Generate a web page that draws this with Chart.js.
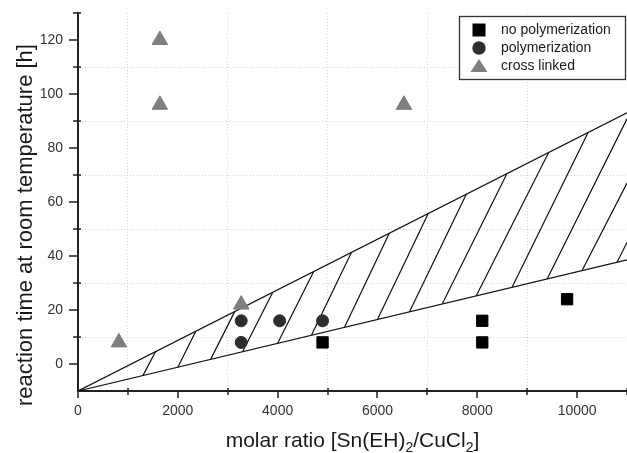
<!DOCTYPE html>
<html><head><meta charset="utf-8">
<script src="https://cdn.jsdelivr.net/npm/chart.js@4.4.0/dist/chart.umd.min.js"></script>
<style>html,body{margin:0;padding:0;background:#fff;}canvas{display:block;}</style>
</head><body>
<canvas id="c" width="627" height="453"></canvas>
<script>
const FONT = "'Liberation Sans', Arial, sans-serif";

// ---- data ----
const seriesLabels = ['no polymerization', 'polymerization', 'cross linked'];
const squareX = [4900, 8100, 8100, 9800];
const squareY = [8, 16, 8, 24];
const circleX = [3270, 3270, 4040, 4900];
const circleY = [16, 8, 16, 16];
const triangleX = [820, 1640, 1640, 3270, 6530];
const triangleY = [8, 120, 96, 22, 96];

// boundary lines of the hatched region
const boundaryX = [0, 11000];
const upperBoundY = [-10, 93];
const lowerBoundY = [-10, 38.6];

// hatch segments (lower end -> upper end)
const hatchLowX  = [1300, 2000, 2660, 3300, 4000, 4680, 5340, 6000, 6640, 7300, 7980, 8700, 9400, 10100, 10800];
const hatchLowY  = [-4.3, -1.2, 1.8, 4.6, 7.7, 10.7, 13.6, 16.5, 19.3, 22.3, 25.3, 28.5, 31.5, 34.6, 37.7];
const hatchHighX = [1560, 2360, 3140, 3900, 4720, 5480, 6240, 7020, 7780, 8590, 9430, 10220, 11000, 11000, 11000];
const hatchHighY = [4.8, 12.1, 19.4, 26.5, 34.2, 41.4, 48.5, 55.8, 62.9, 70.4, 78.3, 85.7, 90.8, 67, 45];

// axes
const xTickValues = [0, 2000, 4000, 6000, 8000, 10000];
const yTickValues = [0, 20, 40, 60, 80, 100, 120];
const yTitle = 'reaction time at room temperature [h]';
const xTitleParts = ['molar ratio [Sn(EH)', '2', '/CuCl', '2', ']'];
const xTitleSub   = [false, true, false, true, false];

// ---- build datasets ----
const pts = (xs, ys) => xs.map((x, i) => ({x, y: ys[i]}));
const hatchData = [];
hatchLowX.forEach((x, i) => {
  hatchData.push({x, y: hatchLowY[i]});
  hatchData.push({x: hatchHighX[i], y: hatchHighY[i]});
  hatchData.push({x: hatchHighX[i], y: null});
});

const markerStyles = [
  {pointStyle: 'rect', color: '#000000', r: 8},
  {pointStyle: 'circle', color: '#2e2e2e', r: 6},
  {pointStyle: 'triangle', color: '#7f7f7f', r: 9}
];
const markerData = [pts(squareX, squareY), pts(circleX, circleY), pts(triangleX, triangleY)];

const datasets = markerData.map((d, i) => ({
  label: seriesLabels[i],
  data: d,
  pointStyle: markerStyles[i].pointStyle,
  pointRadius: markerStyles[i].r,
  pointHoverRadius: markerStyles[i].r,
  backgroundColor: markerStyles[i].color,
  borderColor: markerStyles[i].color,
  borderWidth: 1,
  showLine: false
}));
const lineStyle = {showLine: true, pointRadius: 0, borderColor: '#111', borderWidth: 1.2, fill: false, spanGaps: false};
datasets.push(Object.assign({label: 'upper', data: pts(boundaryX, upperBoundY)}, lineStyle));
datasets.push(Object.assign({label: 'lower', data: pts(boundaryX, lowerBoundY)}, lineStyle));
datasets.push(Object.assign({label: 'hatch', data: hatchData}, lineStyle));

// ---- plugins ----
const tickMarks = {
  id: 'tickMarks',
  afterDraw(chart) {
    const {ctx, chartArea: a} = chart;
    const xs = chart.scales.x, ys = chart.scales.y;
    ctx.save();
    ctx.strokeStyle = '#222';
    ctx.lineWidth = 1.5;
    ctx.beginPath();
    xs.ticks.forEach(t => {
      const px = Math.round(xs.getPixelForValue(t.value));
      const major = xTickValues.includes(t.value);
      ctx.moveTo(px, major ? a.bottom : a.bottom - 3);
      ctx.lineTo(px, major ? a.bottom + 7 : a.bottom + 4);
    });
    ys.ticks.forEach(t => {
      if (t.value === -10) return;
      const py = Math.round(ys.getPixelForValue(t.value));
      const major = yTickValues.includes(t.value);
      ctx.moveTo(major ? a.left - 9 : a.left - 5, py);
      ctx.lineTo(major ? a.left : a.left + 3, py);
    });
    ctx.stroke();
    ctx.restore();
  }
};

const axisTitles = {
  id: 'axisTitles',
  afterDraw(chart) {
    const {ctx, chartArea: a} = chart;
    ctx.save();
    ctx.fillStyle = '#1a1a1a';
    ctx.font = '22px ' + FONT;
    ctx.save();
    ctx.translate(32, 225);
    ctx.rotate(-Math.PI / 2);
    ctx.textAlign = 'center';
    ctx.textBaseline = 'alphabetic';
    ctx.fillText(yTitle, 0, 0);
    ctx.restore();
    // x title with subscripts
    const mainFont = '21px ' + FONT, subFont = '14px ' + FONT;
    let total = 0;
    const widths = xTitleParts.map((p, i) => {
      ctx.font = xTitleSub[i] ? subFont : mainFont;
      const w = ctx.measureText(p).width;
      total += w;
      return w;
    });
    let x = (a.left + a.right) / 2 - total / 2;
    const base = 447;
    ctx.textAlign = 'left';
    ctx.textBaseline = 'alphabetic';
    xTitleParts.forEach((p, i) => {
      ctx.font = xTitleSub[i] ? subFont : mainFont;
      ctx.fillText(p, x, xTitleSub[i] ? base + 5 : base);
      x += widths[i];
    });
    ctx.restore();
  }
};

const boxLegend = {
  id: 'boxLegend',
  afterDraw(chart) {
    const ctx = chart.ctx;
    ctx.save();
    ctx.fillStyle = '#fff';
    ctx.fillRect(459.5, 16.5, 166, 63);
    ctx.strokeStyle = '#333';
    ctx.lineWidth = 1.3;
    ctx.strokeRect(459.5, 16.5, 166, 63);
    const rows = [30, 48, 66];
    const mx = 479;
    seriesLabels.forEach((lab, i) => {
      const y = rows[i];
      ctx.fillStyle = markerStyles[i].color;
      ctx.beginPath();
      if (markerStyles[i].pointStyle === 'rect') {
        ctx.rect(mx - 6.5, y - 6.5, 13, 13);
      } else if (markerStyles[i].pointStyle === 'circle') {
        ctx.arc(mx, y, 6.7, 0, Math.PI * 2);
      } else {
        ctx.moveTo(mx, y - 7);
        ctx.lineTo(mx + 8.5, y + 6);
        ctx.lineTo(mx - 8.5, y + 6);
        ctx.closePath();
      }
      ctx.fill();
      ctx.fillStyle = '#1a1a1a';
      ctx.font = '14px ' + FONT;
      ctx.textAlign = 'left';
      ctx.textBaseline = 'middle';
      ctx.fillText(lab, 501, y);
    });
    ctx.restore();
  }
};

const noPad = s => { s.paddingLeft = 0; s.paddingRight = 0; s.paddingTop = 0; s.paddingBottom = 0; };

new Chart(document.getElementById('c'), {
  type: 'scatter',
  data: {datasets},
  options: {
    responsive: false,
    animation: false,
    layout: {autoPadding: false, padding: {top: 13, right: 0, left: 0, bottom: 0}},
    plugins: {legend: {display: false}, tooltip: {enabled: false}},
    scales: {
      x: {
        type: 'linear', min: 0, max: 11000,
        afterFit(s) { s.height = 62; noPad(s); },
        ticks: {
          stepSize: 1000, autoSkip: false, maxRotation: 0, padding: 12,
          color: '#333', font: {family: FONT, size: 14},
          callback: v => xTickValues.includes(v) ? String(v) : ''
        },
        grid: {
          drawTicks: false,
          color: c => (c.tick && c.tick.value % 2000 === 1000 && c.tick.value < 11000) ? '#d4d4d4' : 'rgba(0,0,0,0)',
          lineWidth: 1
        },
        border: {display: true, color: '#222', width: 2, dash: [1, 2]}
      },
      y: {
        type: 'linear', min: -10, max: 130,
        afterFit(s) { s.width = 78; noPad(s); },
        ticks: {
          stepSize: 10, autoSkip: false, padding: 15,
          color: '#333', font: {family: FONT, size: 14},
          callback: v => yTickValues.includes(v) ? String(v) : ''
        },
        grid: {
          drawTicks: false,
          color: c => (c.tick && Math.abs(c.tick.value % 20) === 10 && c.tick.value > -10 && c.tick.value < 130) ? '#d4d4d4' : 'rgba(0,0,0,0)',
          lineWidth: 1
        },
        border: {display: true, color: '#222', width: 2, dash: [1, 2]}
      }
    }
  },
  plugins: [tickMarks, axisTitles, boxLegend]
});
</script>
</body></html>
